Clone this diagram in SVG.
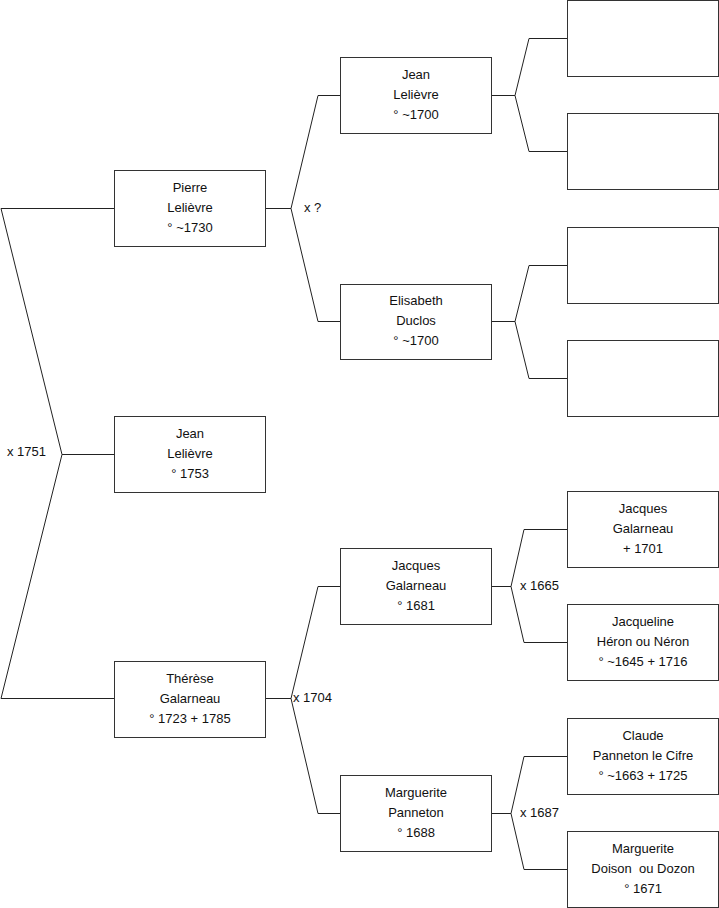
<svg xmlns="http://www.w3.org/2000/svg" width="719" height="908" viewBox="0 0 719 908">
<style>
.box{fill:#fff;stroke:#333;stroke-width:1}
.t{font-family:"Liberation Sans",Arial,sans-serif;font-size:13px;fill:#111;text-anchor:middle;white-space:pre}
.l{font-family:"Liberation Sans",Arial,sans-serif;font-size:13px;fill:#111}
.c{fill:none;stroke:#222;stroke-width:1}
</style>
<rect width="719" height="908" fill="#fff"/>
<g id="connectors">
<polyline class="c" points="114,208.5 1,208.5 62,454.5 1,698.5 114,698.5"/>
<line class="c" x1="62" y1="454.5" x2="114" y2="454.5"/>
<polyline class="c" points="340,95.5 318,95.5 291,208.5 318,321.5 340,321.5"/>
<line class="c" x1="265" y1="208.5" x2="291" y2="208.5"/>
<polyline class="c" points="340,586.5 318,586.5 291,698.5 318,813.5 340,813.5"/>
<line class="c" x1="265" y1="698.5" x2="291" y2="698.5"/>
<polyline class="c" points="567,38.5 529,38.5 515,95.5 529,151.5 567,151.5"/>
<line class="c" x1="491" y1="95.5" x2="515" y2="95.5"/>
<polyline class="c" points="567,265.5 529,265.5 515,321.5 529,378.5 567,378.5"/>
<line class="c" x1="491" y1="321.5" x2="515" y2="321.5"/>
<polyline class="c" points="567,529.5 524,529.5 511,586.5 524,642.5 567,642.5"/>
<line class="c" x1="491" y1="586.5" x2="511" y2="586.5"/>
<polyline class="c" points="567,756.5 524,756.5 511,813.5 524,869.5 567,869.5"/>
<line class="c" x1="491" y1="813.5" x2="511" y2="813.5"/>
<text class="l" x="7" y="456">x 1751</text>
<text class="l" x="304" y="212">x ?</text>
<text class="l" x="293" y="702">x 1704</text>
<text class="l" x="520" y="590">x 1665</text>
<text class="l" x="520" y="817">x 1687</text>
</g>
<g id="pierre"><rect class="box" x="114.5" y="170.5" width="151" height="76"/><text class="t" x="190" y="191.5">Pierre</text><text class="t" x="190" y="211.5">Lelièvre</text><text class="t" x="190" y="231.5">° ~1730</text></g>
<g id="jean"><rect class="box" x="114.5" y="416.5" width="151" height="76"/><text class="t" x="190" y="437.5">Jean</text><text class="t" x="190" y="457.5">Lelièvre</text><text class="t" x="190" y="477.5">° 1753</text></g>
<g id="therese"><rect class="box" x="114.5" y="661.5" width="151" height="76"/><text class="t" x="190" y="682.5">Thérèse</text><text class="t" x="190" y="702.5">Galarneau</text><text class="t" x="190" y="722.5">° 1723 + 1785</text></g>
<g id="jean1700"><rect class="box" x="340.5" y="57.5" width="151" height="76"/><text class="t" x="416" y="78.5">Jean</text><text class="t" x="416" y="98.5">Lelièvre</text><text class="t" x="416" y="118.5">° ~1700</text></g>
<g id="elisabeth"><rect class="box" x="340.5" y="284.5" width="151" height="75"/><text class="t" x="416" y="304.5">Elisabeth</text><text class="t" x="416" y="324.5">Duclos</text><text class="t" x="416" y="344.5">° ~1700</text></g>
<g id="jacques1681"><rect class="box" x="340.5" y="548.5" width="151" height="76"/><text class="t" x="416" y="569.5">Jacques</text><text class="t" x="416" y="589.5">Galarneau</text><text class="t" x="416" y="609.5">° 1681</text></g>
<g id="marguerite1688"><rect class="box" x="340.5" y="775.5" width="151" height="76"/><text class="t" x="416" y="796.5">Marguerite</text><text class="t" x="416" y="816.5">Panneton</text><text class="t" x="416" y="836.5">° 1688</text></g>
<g id="empty1"><rect class="box" x="567.5" y="0.5" width="151" height="76"/></g>
<g id="empty2"><rect class="box" x="567.5" y="113.5" width="151" height="76"/></g>
<g id="empty3"><rect class="box" x="567.5" y="227.5" width="151" height="76"/></g>
<g id="empty4"><rect class="box" x="567.5" y="340.5" width="151" height="76"/></g>
<g id="jacques1701"><rect class="box" x="567.5" y="491.5" width="151" height="76"/><text class="t" x="643" y="512.5">Jacques</text><text class="t" x="643" y="532.5">Galarneau</text><text class="t" x="643" y="552.5">+ 1701</text></g>
<g id="jacqueline"><rect class="box" x="567.5" y="604.5" width="151" height="76"/><text class="t" x="643" y="625.5">Jacqueline</text><text class="t" x="643" y="645.5">Héron ou Néron</text><text class="t" x="643" y="665.5">° ~1645 + 1716</text></g>
<g id="claude"><rect class="box" x="567.5" y="718.5" width="151" height="76"/><text class="t" x="643" y="739.5">Claude</text><text class="t" x="643" y="759.5">Panneton le Cifre</text><text class="t" x="643" y="779.5">° ~1663 + 1725</text></g>
<g id="marguerite1671"><rect class="box" x="567.5" y="831.5" width="151" height="76"/><text class="t" x="643" y="852.5">Marguerite</text><text class="t" x="643" y="872.5">Doison  ou Dozon</text><text class="t" x="643" y="892.5">° 1671</text></g>
</svg>
